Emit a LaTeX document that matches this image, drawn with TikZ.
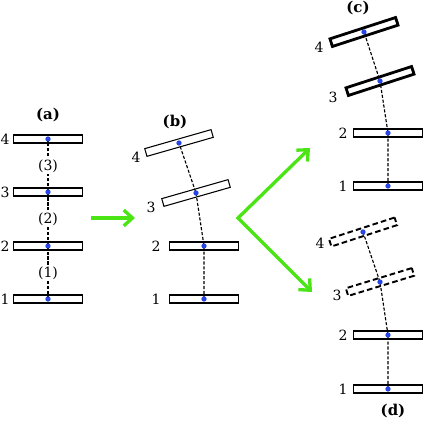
\documentclass[tikz,border=0pt]{standalone}
\usepackage{fontspec}
\setmainfont{DejaVu Serif}
\usepackage{tikz}
\usetikzlibrary{arrows.meta,positioning}
\definecolor{grn}{RGB}{75,228,20}
\definecolor{dotblue}{RGB}{40,70,230}
\tikzset{
	x=0.02cm, y=-0.02cm,
	bar/.style = {
			draw,
			fill            = white,
			rectangle,
			line width      = 0.6pt,
			inner sep       = 0pt,
			minimum width   = 1.38cm,
			minimum height  = 0.16cm,
		},
	boldbar/.style = {bar, line width=1.6pt},
	ghostbar/.style = {bar, line width=1.1pt, dash pattern=on 3.2pt off 1.8pt},
	dot/.style = {
			circle,
			fill            = dotblue,
			inner sep       = 0pt,
			minimum size    = 0.105cm,
		},
	link/.style = {line width=0.65pt, dash pattern=on 1.8pt off 1pt},
	num/.style = {font=\fontsize{8}{9}\selectfont, inner sep=1pt},
	tag/.style = {font=\fontsize{8.5}{10}\selectfont\bfseries, inner sep=1pt},
	move/.style = {draw=grn, line width=1.9pt, -{Straight Barb[length=5pt,width=9pt]}},
}
\begin{document}
\begin{tikzpicture}
		\useasboundingbox (0,0) rectangle (425,421);

		% (a)
		\node[bar] at (48,299) (a1) {};
		\node[bar] at (48,246) (a2) {};
		\node[bar] at (48,192) (a3) {};
		\node[bar] at (48,139) (a4) {};
		\draw[link] (a1.center) -- (a2.center) -- (a3.center) -- (a4.center);
		\node[num, fill=white] at (48,273) (j1) {(1)};
		\node[num, fill=white] at (48,219) (j2) {(2)};
		\node[num, fill=white] at (48,166) (j3) {(3)};
		\node[dot] at (a1.center) (pa1) {};
		\node[dot] at (a2.center) (pa2) {};
		\node[dot] at (a3.center) (pa3) {};
		\node[dot] at (a4.center) (pa4) {};
		\node[num] at (5,299) (na1) {1};
		\node[num] at (5,246) (na2) {2};
		\node[num] at (5,192) (na3) {3};
		\node[num] at (5,139) (na4) {4};
		\node[tag] at (48,115) (ta) {(a)};

		% (b)
		\node[bar] at (204,299) (b1) {};
		\node[bar] at (204,246) (b2) {};
		\node[bar, rotate=16] at (196,193) (b3) {};
		\node[bar, rotate=16] at (179,143) (b4) {};
		\draw[link] (b1.center) -- (b2.center) -- (b3.center) -- (b4.center);
		\node[dot] at (b1.center) (pb1) {};
		\node[dot] at (b2.center) (pb2) {};
		\node[dot] at (b3.center) (pb3) {};
		\node[dot] at (b4.center) (pb4) {};
		\node[num] at (156,299) (nb1) {1};
		\node[num] at (156,246) (nb2) {2};
		\node[num] at (151,207) (nb3) {3};
		\node[num] at (136,157) (nb4) {4};
		\node[tag] at (175,122) (tb) {(b)};

		% (c)
		\node[bar] at (388,186) (c1) {};
		\node[bar] at (388,133) (c2) {};
		\node[boldbar, rotate=18] at (380,81) (c3) {};
		\node[boldbar, rotate=18] at (364,32) (c4) {};
		\draw[link] (c1.center) -- (c2.center) -- (c3.center) -- (c4.center);
		\node[dot] at (c1.center) (pc1) {};
		\node[dot] at (c2.center) (pc2) {};
		\node[dot] at (c3.center) (pc3) {};
		\node[dot] at (c4.center) (pc4) {};
		\node[num] at (343,186) (nc1) {1};
		\node[num] at (343,133) (nc2) {2};
		\node[num] at (333,97) (nc3) {3};
		\node[num] at (319,47) (nc4) {4};
		\node[tag] at (358,8) (tc) {(c)};

		% (d)
		\node[bar] at (388,389) (d1) {};
		\node[bar] at (388,335) (d2) {};
		\node[ghostbar, rotate=17] at (380,282) (d3) {};
		\node[ghostbar, rotate=18] at (363,232) (d4) {};
		\draw[link] (d1.center) -- (d2.center) -- (d3.center) -- (d4.center);
		\node[dot] at (d1.center) (pd1) {};
		\node[dot] at (d2.center) (pd2) {};
		\node[dot] at (d3.center) (pd3) {};
		\node[dot] at (d4.center) (pd4) {};
		\node[num] at (343,389) (nd1) {1};
		\node[num] at (343,335) (nd2) {2};
		\node[num] at (337,295) (nd3) {3};
		\node[num] at (320,243) (nd4) {4};
		\node[tag] at (393,411) (td) {(d)};

		% arrows
		\coordinate (from) at (91,218);
		\coordinate (to) at (135,218);
		\coordinate (fork) at (238,218);
		\coordinate (up) at (310,148);
		\coordinate (down) at (312,292);
		\draw[move] (from) -- (to);
		\draw[move, {Straight Barb[length=5pt,width=9pt]}-{Straight Barb[length=5pt,width=9pt]}] (up) -- (fork) -- (down);
	\end{tikzpicture}
\end{document}
